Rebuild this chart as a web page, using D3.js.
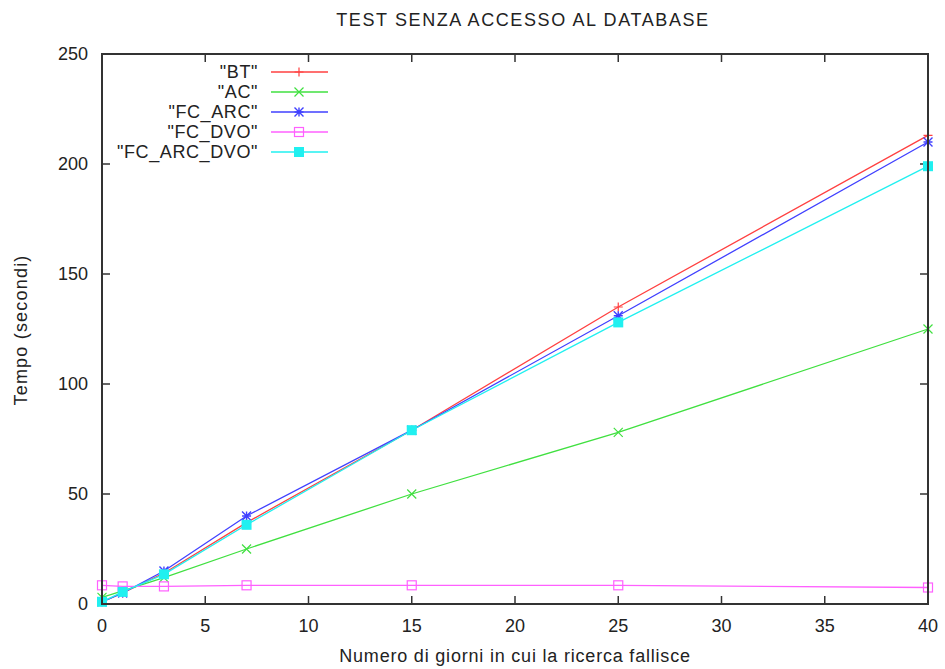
<!DOCTYPE html>
<html>
<head>
<meta charset="utf-8">
<script src="https://cdn.jsdelivr.net/npm/d3@7"></script>
<style>
  html, body { margin: 0; padding: 0; background: #fff; }
  svg { display: block; }
  text { font-family: "Liberation Sans", Arial, sans-serif; fill: #222; }
</style>
</head>
<body>
<svg id="chart" width="945" height="669"></svg>
<script>
// Days on which the search fails (x) and elapsed time in seconds per strategy
const days = [0, 1, 3, 7, 15, 25, 40];
const bt = [1, 5, 14, 37, 79, 135, 213];
const ac = [3, 6, 12, 25, 50, 78, 125];
const fcArc = [1, 5, 15, 40, 79, 131, 210];
const fcDvo = [8.5, 8, 8, 8.5, 8.5, 8.5, 7.5];
const fcArcDvo = [1, 5.5, 13.5, 36, 79, 128, 199];

const seriesNames = ['"BT"', '"AC"', '"FC_ARC"', '"FC_DVO"', '"FC_ARC_DVO"'];
const seriesColors = ["#ff4040", "#40e040", "#4040ff", "#ff60ff", "#20f0f0"];
const seriesMarkers = ["plus", "cross", "star", "square", "filledSquare"];
const seriesValues = [bt, ac, fcArc, fcDvo, fcArcDvo];

const xTicks = [0, 5, 10, 15, 20, 25, 30, 35, 40];
const yTicks = [0, 50, 100, 150, 200, 250];

const titleText = "TEST SENZA ACCESSO AL DATABASE";
const xLabel = "Numero di giorni in cui la ricerca fallisce";
const yLabel = "Tempo (secondi)";

const svg = d3.select("#chart");
const L = 102, R = 928, T = 54, B = 604;

const x = d3.scaleLinear().domain([0, 40]).range([L, R]);
const y = d3.scaleLinear().domain([0, 250]).range([B, T]);

const fontSize = 18;

// Title
svg.append("text")
  .attr("x", (L + R) / 2 + 8).attr("y", 26)
  .attr("text-anchor", "middle")
  .style("font-size", fontSize + "px")
  .style("letter-spacing", "1.6px")
  .text(titleText);

// Ticks on all four sides (pointing inward)
const tickLen = 8;
const frame = svg.append("g").attr("stroke", "#333").attr("stroke-width", 1.5);
xTicks.forEach(t => {
  frame.append("line").attr("x1", x(t)).attr("x2", x(t)).attr("y1", B).attr("y2", B - tickLen);
  frame.append("line").attr("x1", x(t)).attr("x2", x(t)).attr("y1", T).attr("y2", T + tickLen);
});
yTicks.forEach(t => {
  frame.append("line").attr("x1", L).attr("x2", L + tickLen).attr("y1", y(t)).attr("y2", y(t));
  frame.append("line").attr("x1", R).attr("x2", R - tickLen).attr("y1", y(t)).attr("y2", y(t));
});

// Tick labels
svg.append("g").selectAll("text").data(xTicks).join("text")
  .attr("x", d => x(d)).attr("y", 632)
  .attr("text-anchor", "middle")
  .style("font-size", fontSize + "px")
  .text(d => d);
svg.append("g").selectAll("text").data(yTicks).join("text")
  .attr("x", 88).attr("y", d => y(d) + 6)
  .attr("text-anchor", "end")
  .style("font-size", fontSize + "px")
  .text(d => d);

// Axis titles
svg.append("text")
  .attr("x", (L + R) / 2).attr("y", 662)
  .attr("text-anchor", "middle")
  .style("font-size", fontSize + "px")
  .style("letter-spacing", "0.8px")
  .text(xLabel);
svg.append("text")
  .attr("transform", `translate(27,${330}) rotate(-90)`)
  .attr("text-anchor", "middle")
  .style("font-size", fontSize + "px")
  .style("letter-spacing", "1.2px")
  .text(yLabel);

// Marker shapes
function drawMarker(g, kind, cx, cy, color) {
  const s = 4.5;
  if (kind === "plus") {
    g.append("path").attr("d", `M${cx - s},${cy}H${cx + s}M${cx},${cy - s}V${cy + s}`)
      .attr("stroke", color).attr("stroke-width", 1.2).attr("fill", "none");
  } else if (kind === "cross") {
    g.append("path").attr("d", `M${cx - s},${cy - s}L${cx + s},${cy + s}M${cx - s},${cy + s}L${cx + s},${cy - s}`)
      .attr("stroke", color).attr("stroke-width", 1.2).attr("fill", "none");
  } else if (kind === "star") {
    g.append("path").attr("d", `M${cx - s},${cy - s}L${cx + s},${cy + s}M${cx - s},${cy + s}L${cx + s},${cy - s}M${cx - s},${cy}H${cx + s}M${cx},${cy - s}V${cy + s}`)
      .attr("stroke", color).attr("stroke-width", 1.4).attr("fill", "none");
  } else if (kind === "square") {
    g.append("rect").attr("x", cx - s).attr("y", cy - s).attr("width", 2 * s).attr("height", 2 * s)
      .attr("stroke", color).attr("stroke-width", 1.2).attr("fill", "none");
  } else {
    g.append("rect").attr("x", cx - s - 0.5).attr("y", cy - s - 0.5).attr("width", 2 * s + 1).attr("height", 2 * s + 1)
      .attr("fill", color);
  }
}

// Series lines and markers
const line = d3.line().x((d, i) => x(days[i])).y(d => y(d));
seriesValues.forEach((vals, k) => {
  const g = svg.append("g");
  g.append("path").attr("d", line(vals))
    .attr("fill", "none").attr("stroke", seriesColors[k]).attr("stroke-width", 1.3);
  vals.forEach((v, i) => drawMarker(g, seriesMarkers[k], x(days[i]), y(v), seriesColors[k]));
});

// Legend
const legend = svg.append("g");
seriesNames.forEach((name, k) => {
  const ly = 72 + k * 20;
  legend.append("text").attr("x", 258).attr("y", ly + 6)
    .attr("text-anchor", "end").style("font-size", fontSize + "px")
    .style("letter-spacing", "0.6px").text(name);
  legend.append("line").attr("x1", 271).attr("x2", 328).attr("y1", ly).attr("y2", ly)
    .attr("stroke", seriesColors[k]).attr("stroke-width", 1.3);
  drawMarker(legend, seriesMarkers[k], 299, ly, seriesColors[k]);
});

// Plot frame
svg.append("rect").attr("x", L).attr("y", T).attr("width", R - L).attr("height", B - T)
  .attr("fill", "none").attr("stroke", "#333").attr("stroke-width", 2);
</script>
</body>
</html>
